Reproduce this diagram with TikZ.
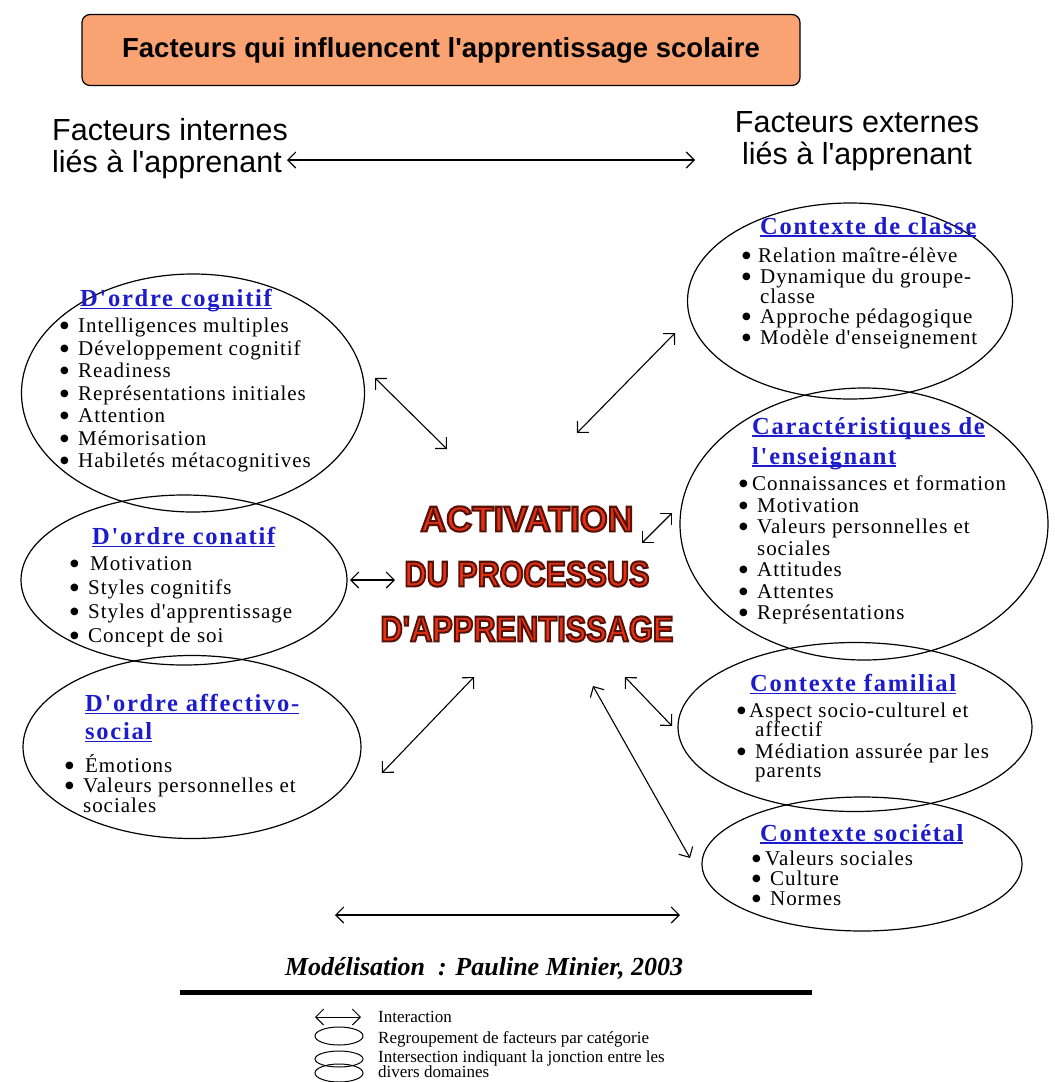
\documentclass[tikz,border=0pt]{standalone}
\usepackage{fontspec}
\usepackage{xcolor}
\usepackage{graphicx}
\usetikzlibrary{shapes.geometric,arrows.meta}
\setmainfont{Liberation Serif}
\newfontfamily\sansfnt{Liberation Sans}
\newfontfamily\symfnt{DejaVu Sans}
\newfontfamily\hdfnt[LetterSpace=7]{Liberation Serif}
\newfontfamily\itmfnt[LetterSpace=4.5]{Liberation Serif}
\definecolor{titleorange}{RGB}{249,162,114}
\definecolor{headblue}{RGB}{28,28,205}
\definecolor{actred}{RGB}{232,48,20}
\newlength\bulw
\setlength\bulw{18pt}
\newcommand{\hd}[1]{\setbox0\hbox{#1}\rlap{\rule[-3pt]{\wd0}{1.8pt}}\box0}
\newcommand{\itm}[1]{\makebox[\bulw][l]{\raisebox{4pt}{\symfnt\fontsize{10}{10}\selectfont ●}}#1}
\newcommand{\cont}[1]{\hspace*{\bulw}#1}
\newcommand{\actline}[1]{{\color{actred}\special{pdf:literal direct 2 Tr 2 w 0.33 0.07 0.03 RG}#1\special{pdf:literal direct 0 Tr 0.4 w}}}

\begin{document}
\begin{tikzpicture}[x=1pt,y=-1pt,
    grp/.style={ellipse, draw, line width=1.2pt, inner sep=0pt},
    headtxt/.style={anchor=north west, inner sep=0pt, align=left, text=headblue, font=\hdfnt\bfseries\fontsize{24.5}{#1}\selectfont},
    itemtxt/.style={anchor=north west, inner sep=0pt, align=left, font=\itmfnt\fontsize{21}{#1}\selectfont},
    sidetxt/.style={inner sep=0pt, font=\sansfnt\fontsize{30.5}{32}\selectfont},
    legtxt/.style={anchor=base west, inner sep=0pt, font=\fontsize{17}{19}\selectfont},
    link/.style={{Straight Barb[length=8pt,width=16pt]}-{Straight Barb[length=8pt,width=16pt]}, line width=1.1pt}]
\useasboundingbox (0,0) rectangle (1055,1082);

% titre
\node[draw, line width=1.2pt, rounded corners=8pt, fill=titleorange, minimum width=718pt, minimum height=71pt,
      font=\sansfnt\bfseries\fontsize{27.5}{29}\selectfont] (title) at (441,50) {Facteurs qui influencent l'apprentissage scolaire};

\node[sidetxt, anchor=north west, align=left] (internes) at (52,118) {Facteurs internes\\liés à l'apprenant};
\node[sidetxt, anchor=north, align=center] (externes) at (857,111) {Facteurs externes\\liés à l'apprenant};

% categories internes
\node[grp, minimum width=343pt, minimum height=238pt] (cognitif) at (193,393) {};
\node[grp, minimum width=326pt, minimum height=170pt] (conatif) at (184,580) {};
\node[grp, minimum width=338pt, minimum height=183pt] (affectif) at (192,747) {};

\node[headtxt=28] (cogh) at (80,289) {\hd{D'ordre cognitif}};
\node[itemtxt=22.5] (cogi) at (60,318) {\setlength\bulw{18pt}\itm{Intelligences multiples}\\\itm{Développement cognitif}\\\itm{Readiness}\\\itm{Représentations initiales}\\\itm{Attention}\\\itm{Mémorisation}\\\itm{Habiletés métacognitives}};

\node[headtxt=28] (conh) at (92,527) {\hd{D'ordre conatif}};
\node[itemtxt=24] (coni) at (70,556) {\setlength\bulw{20pt}\itm{Motivation}\\\itm{Styles cognitifs}\\\itm{Styles d'apprentissage}\\\itm{Concept de soi}};

\node[headtxt=28] (affh) at (85,694) {\hd{D'ordre affectivo-}\\\hd{social}};
\node[itemtxt=20] (affi) at (65,754) {\setlength\bulw{20pt}\itm{Émotions}\\\itm{Valeurs personnelles et}\\\cont{sociales}};

% categories externes
\node[grp, minimum width=325pt, minimum height=196pt] (classe) at (850,301) {};
\node[grp, minimum width=368pt, minimum height=272pt] (enseignant) at (864,524) {};
\node[grp, minimum width=354pt, minimum height=169pt] (familial) at (855,727) {};
\node[grp, minimum width=320pt, minimum height=134pt] (societal) at (862,864) {};

\node[headtxt=28] (clah) at (760,217) {\hd{Contexte de classe}};
\node[itemtxt=20.3] (clai) at (742,248) {\setlength\bulw{16pt}\itm{Relation maître-élève}\\\itm{Dynamique du groupe-}\\\cont{classe}\\\itm{Approche pédagogique}\\\itm{Modèle d'enseignement}};

\node[headtxt=30] (ensh) at (752,417) {\hd{Caractéristiques de}\\\hd{l'enseignant}};
\node[itemtxt=21.5] (ensi) at (739,476) {\setlength\bulw{13pt}\itm{Connaissances et formation}\\\itm{Motivation}\\\itm{Valeurs personnelles et}\\\cont{sociales}\\\itm{Attitudes}\\\itm{Attentes}\\\itm{Représentations}};

\node[headtxt=28] (famh) at (750,674) {\hd{Contexte familial}};
\node[itemtxt=22] (fami) at (737,703) {\setlength\bulw{12pt}\itm{Aspect socio-culturel et}\\[-3pt]\cont{affectif}\\\itm{Médiation assurée par les}\\[-3pt]\cont{parents}};

\node[headtxt=28] (soch) at (760,824) {\hd{Contexte sociétal}};
\node[itemtxt=20] (soci) at (752,851) {\setlength\bulw{13pt}\itm{Valeurs sociales}\\\itm{Culture}\\\itm{Normes}};

% centre
\node[inner sep=0pt, align=center, font=\sansfnt\bfseries\fontsize{34}{55}\selectfont] (activ) at (527,574)
  {\resizebox{213pt}{25pt}{\actline{ACTIVATION}}\\\resizebox{245pt}{25pt}{\actline{DU PROCESSUS}}\\\resizebox{293pt}{25pt}{\actline{D'APPRENTISSAGE}}};

% interactions
\coordinate (topL) at (287,160);
\coordinate (topR) at (695,160);
\coordinate (cogA) at (375,378);
\coordinate (cogB) at (447,449);
\coordinate (conA) at (350,580);
\coordinate (conB) at (395,580);
\coordinate (affA) at (382,773);
\coordinate (affB) at (474,677);
\coordinate (claA) at (577,433);
\coordinate (claB) at (675,333);
\coordinate (ensA) at (642,543);
\coordinate (ensB) at (672,513);
\coordinate (famA) at (625,677);
\coordinate (famB) at (672,726);
\coordinate (socA) at (593,686);
\coordinate (socB) at (690,858);
\coordinate (botL) at (335,915);
\coordinate (botR) at (680,915);

\draw[link] (topL) -- (topR);
\draw[link] (cogA) -- (cogB);
\draw[link] (conA) -- (conB);
\draw[link] (affA) -- (affB);
\draw[link] (claA) -- (claB);
\draw[link] (ensA) -- (ensB);
\draw[link] (famA) -- (famB);
\draw[link] (socA) -- (socB);
\draw[link] (botL) -- (botR);

% source et legende
\node[anchor=base, inner sep=0pt, font=\bfseries\itshape\fontsize{26}{28}\selectfont] (source) at (484,975) {Modélisation~ : Pauline Minier, 2003};
\draw[line width=5pt] (180,992) -- (812,992);

\coordinate (legA) at (315,1017);
\coordinate (legB) at (361,1017);
\draw[link, line width=0.9pt] (legA) -- (legB);
\node[grp, line width=1pt, minimum width=48pt, minimum height=18pt] (legell) at (339,1036) {};
\node[grp, line width=1pt, minimum width=48pt, minimum height=16pt] (legtop) at (339,1059) {};
\node[grp, line width=1pt, minimum width=48pt, minimum height=18pt] (legbot) at (339,1073) {};

\node[legtxt] (leg1) at (378,1022) {Interaction};
\node[legtxt] (leg2) at (378,1043) {Regroupement de facteurs par catégorie};
\node[legtxt] (leg3) at (378,1062) {Intersection indiquant la jonction entre les};
\node[legtxt] (leg4) at (378,1077) {divers domaines};
\end{tikzpicture}
\end{document}
